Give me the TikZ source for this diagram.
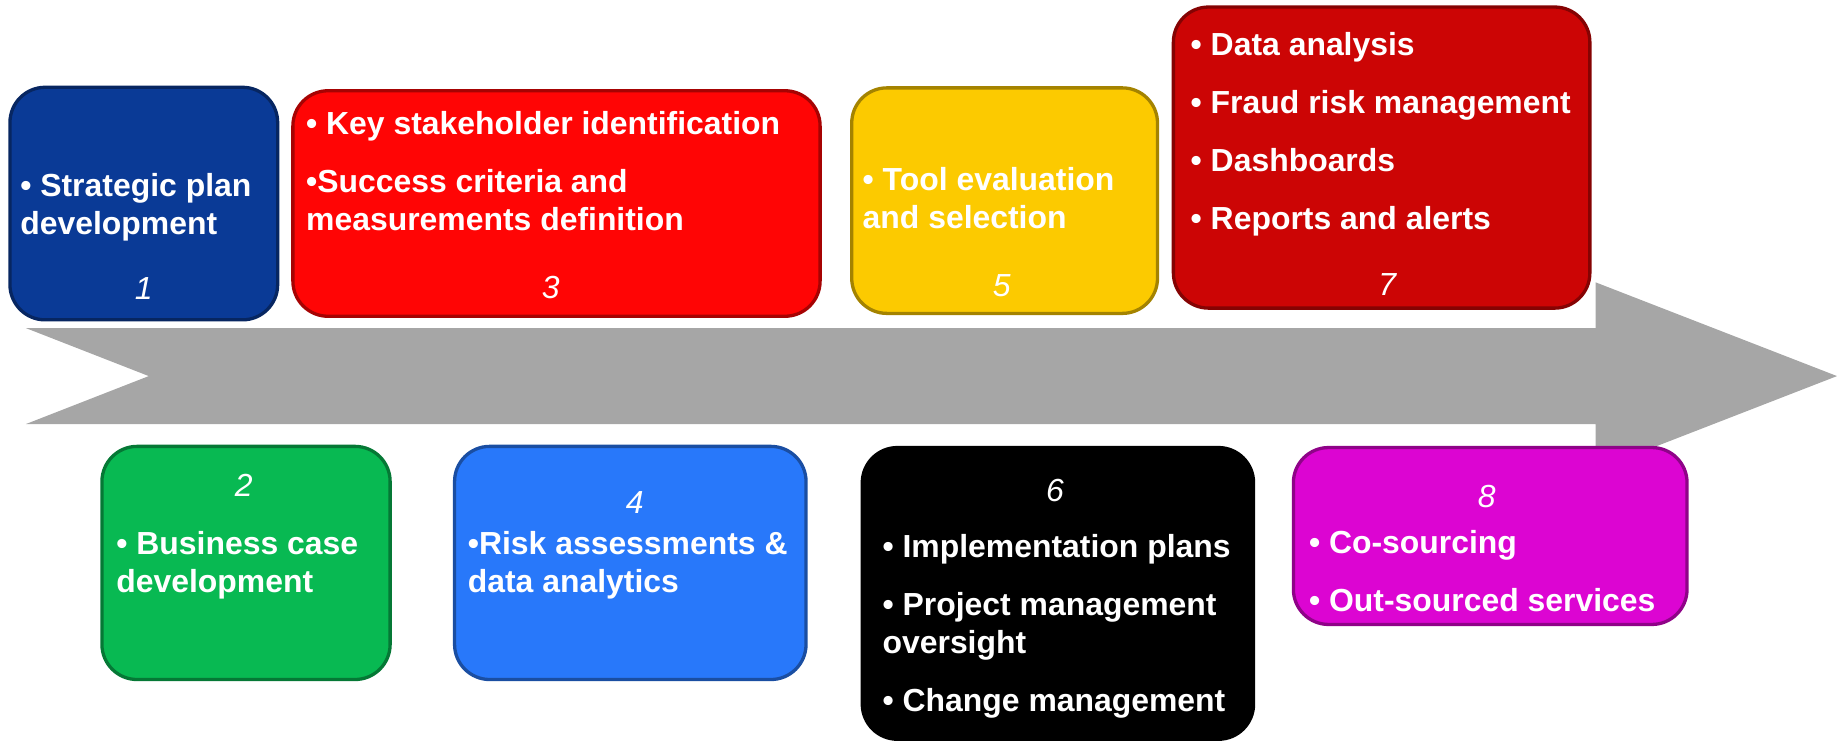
\documentclass[tikz,border=0pt]{standalone}
\usepackage{fontspec}
\setmainfont{Liberation Sans}
\definecolor{stepblue}{RGB}{10,58,150}
\definecolor{stepred}{RGB}{255,5,5}
\definecolor{stepyellow}{RGB}{252,202,0}
\definecolor{stepdarkred}{RGB}{204,5,5}
\definecolor{stepgreen}{RGB}{8,185,82}
\definecolor{steplightblue}{RGB}{40,120,250}
\definecolor{stepblack}{RGB}{0,0,0}
\definecolor{stepmagenta}{RGB}{220,5,210}
\definecolor{arrowgray}{RGB}{166,166,166}
\begin{document}
\begin{tikzpicture}[x=0.2mm,y=-0.2mm,
	phase/.style={rounded corners=6mm,fill=#1,draw=#1!65!black,line width=1.6pt,inner sep=0pt},
	items/.style={anchor=north west,inner sep=0pt,align=left,text=white,font=\fontsize{15.5}{18.5}\selectfont\bfseries},
	num/.style={anchor=base,inner sep=0pt,text=white,font=\fontsize{15.5}{18.5}\selectfont\itshape}]
	\useasboundingbox (0,0) rectangle (1568,634);
	% timeline arrow
	\fill[arrowgray] (22,280) -- (1362,280) -- (1362,241) -- (1568,321) -- (1362,401)
		-- (1362,362) -- (22,362) -- (127,321) -- cycle;
	% upper row
	\node[phase=stepblue,minimum width=45.7mm,minimum height=39.7mm] (b1) at (122.75,173.75) {};
	\node[phase=stepred,minimum width=90mm,minimum height=38.5mm] (b3) at (475,173.7) {};
	\node[phase=stepyellow,minimum width=52.2mm,minimum height=38.5mm] (b5) at (857.5,171.25) {};
	\node[phase=stepdarkred,minimum width=71.1mm,minimum height=51.4mm] (b7) at (1179.3,134.5) {};
	\node[items] (t1) at (17,147.5) {• Strategic plan\\development};
	\node[items] (t3) at (261,95) {• Key stakeholder identification\\[9.7pt]•Success criteria and\\measurements definition};
	\node[items] (t5) at (736,142.5) {• Tool evaluation\\and selection};
	\node[items] (t7) at (1016,27) {• Data analysis\\[9.7pt]• Fraud risk management\\[9.7pt]• Dashboards\\[9.7pt]• Reports and alerts};
	\node[num] (n1) at (122.75,255.4) {1};
	\node[num] (n3) at (470,255) {3};
	\node[num] (n5) at (855,253) {5};
	\node[num] (n7) at (1184,251.8) {7};
	% lower row
	\node[phase=stepgreen,minimum width=49.2mm,minimum height=39.8mm] (b2) at (210,480.5) {};
	\node[phase=steplightblue,minimum width=60mm,minimum height=39.8mm] (b4) at (538,480.5) {};
	\node[phase=stepblack,minimum width=66.8mm,minimum height=49.8mm] (b6) at (903,506.5) {};
	\node[phase=stepmagenta,minimum width=67.2mm,minimum height=30.2mm] (b8) at (1272,457.5) {};
	\node[num] (n2) at (208,423.4) {2};
	\node[num] (n4) at (541.7,438) {4};
	\node[num] (n6) at (900.6,428) {6};
	\node[num] (n8) at (1269,433) {8};
	\node[items] (t2) at (99,453) {• Business case\\development};
	\node[items] (t4) at (399,453) {•Risk assessments \&\\data analytics};
	\node[items] (t6) at (753,456) {• Implementation plans\\[9.7pt]• Project management\\oversight\\[9.7pt]• Change management};
	\node[items] (t8) at (1117,452) {• Co-sourcing\\[9.7pt]• Out-sourced services};
\end{tikzpicture}
\end{document}
